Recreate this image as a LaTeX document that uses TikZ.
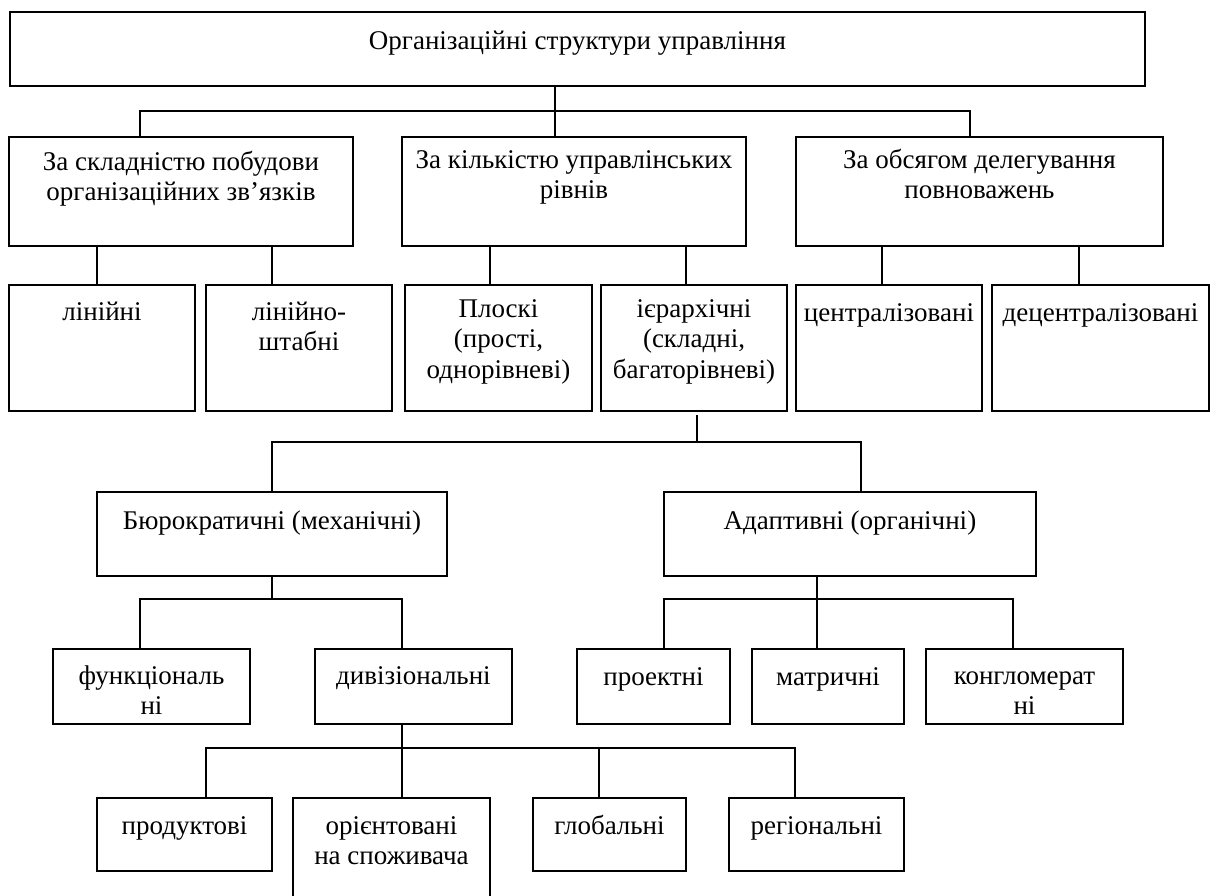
\documentclass[tikz,border=0pt]{standalone}
\usepackage{fontspec}
\setmainfont{Liberation Serif}
\usetikzlibrary{calc}
\newcommand\mkbox[7]{%
  \pgfmathsetmacro\bw{#4-#2}%
  \pgfmathsetmacro\bh{#5-#3}%
  \node[boxst, anchor=north west] (#1) at (#2,#3)
    {\begin{minipage}[c][\bh pt][t]{\bw pt}\centering\rule{0pt}{#6pt}#7\end{minipage}};%
}
\begin{document}
\begin{tikzpicture}[x=1pt,y=-1pt, line width=2pt,
  boxst/.style={draw, inner sep=0pt, outer sep=0pt, fill=white},
  font=\fontsize{27}{30.5}\selectfont]
\clip (0,0) rectangle (1211,895);
\fill[white] (0,0) rectangle (1211,895);

% boxes
\mkbox{top}{10}{12}{1145}{86}{37}{Організаційні структури управління}
\mkbox{bA}{9}{137}{353}{246}{33}{За складністю побудови\\організаційних зв’язків}
\mkbox{bB}{402}{137}{746}{246}{31}{За кількістю управлінських\\рівнів}
\mkbox{bC}{796}{137}{1163}{246}{31}{За обсягом делегування\\повноважень}
\mkbox{lin}{9}{285}{195}{411}{35}{лінійні}
\mkbox{linsh}{206}{285}{392}{411}{35}{лінійно-\\штабні}
\mkbox{plo}{405}{285}{592}{411}{32}{Плоскі\\(прості,\\однорівневі)}
\mkbox{ier}{601}{285}{787}{411}{32}{ієрархічні\\(складні,\\багаторівневі)}
\mkbox{cen}{796}{285}{982}{411}{36}{централізовані}
\mkbox{dec}{992}{285}{1209}{411}{36}{децентралізовані}
\mkbox{bur}{97}{492}{447}{576}{37}{Бюрократичні (механічні)}
\mkbox{ada}{664}{492}{1036}{576}{37}{Адаптивні (органічні)}
\mkbox{func}{53}{649}{250}{724}{35}{функціональ\\ні}
\mkbox{div}{315}{649}{512}{724}{35}{дивізіональні}
\mkbox{proj}{577}{649}{730}{724}{36}{проектні}
\mkbox{matr}{752}{649}{904}{724}{36}{матричні}
\mkbox{kong}{926}{649}{1123}{724}{35}{конгломерат\\ні}
\mkbox{prod}{97}{798}{272}{871}{36}{продуктові}
\mkbox{orient}{293}{798}{490}{905}{36}{орієнтовані\\на споживача}
\mkbox{glob}{533}{798}{686}{871}{36}{глобальні}
\mkbox{reg}{729}{798}{904}{871}{36}{регіональні}

% level 0 -> 1
\coordinate (b0l) at (140,111);
\coordinate (b0m) at (555,111);
\coordinate (b0r) at (970,111);
\draw (top.south -| b0m) -- (bB.north -| b0m);
\draw (bA.north -| b0l) |- (b0r) -- (bC.north -| b0r);

% level 1 -> 2
\coordinate (x97) at (97,0);
\coordinate (x272) at (272,0);
\coordinate (x490) at (490,0);
\coordinate (x686) at (686,0);
\coordinate (x882) at (882,0);
\coordinate (x1079) at (1079,0);
\draw (bA.south -| x97) -- (lin.north -| x97);
\draw (bA.south -| x272) -- (linsh.north -| x272);
\draw (bB.south -| x490) -- (plo.north -| x490);
\draw (bB.south -| x686) -- (ier.north -| x686);
\draw (bC.south -| x882) -- (cen.north -| x882);
\draw (bC.south -| x1079) -- (dec.north -| x1079);

% hierarchical -> bureaucratic / adaptive
\coordinate (j1) at (697,442);
\coordinate (j1l) at (272,442);
\coordinate (j1r) at (861,442);
\draw ($(ier.south -| j1)+(0,4)$) -- (j1);
\draw (bur.north -| j1l) |- (j1r) -- (ada.north -| j1r);

% bureaucratic -> children
\coordinate (j2) at (272,599);
\coordinate (j2l) at (140,599);
\coordinate (j2r) at (402,599);
\draw (bur.south -| j2) -- (j2);
\draw (func.north -| j2l) |- (j2r) -- (div.north -| j2r);

% adaptive -> children
\coordinate (j3) at (817,599);
\coordinate (j3l) at (664,599);
\coordinate (j3r) at (1013,599);
\draw (ada.south -| j3) -- (matr.north -| j3);
\draw (proj.north -| j3l) |- (j3r) -- (kong.north -| j3r);

% divisional -> children
\coordinate (j4) at (402,748);
\coordinate (j4l) at (206,748);
\coordinate (j4g) at (599,748);
\coordinate (j4r) at (795,748);
\draw (div.south -| j4) -- (orient.north -| j4);
\draw (prod.north -| j4l) |- (j4r) -- (reg.north -| j4r);
\draw (j4g) -- (glob.north -| j4g);
\end{tikzpicture}
\end{document}
